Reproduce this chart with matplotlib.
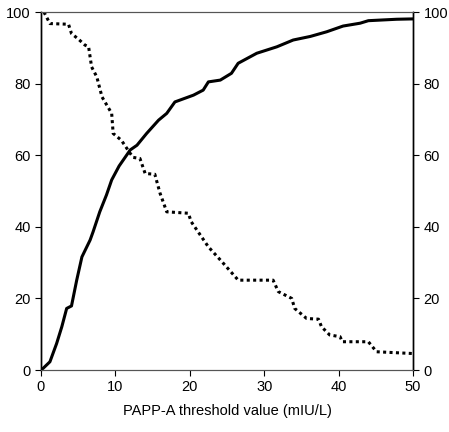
import matplotlib
matplotlib.use("Agg")
import matplotlib.pyplot as plt

plt.rcParams['font.family'] = ['Liberation Sans', 'DejaVu Sans']

# solid curve (rising)
x_solid = [0, 0.3, 1.2, 2.1, 2.8, 3.45, 4.1, 4.8, 5.5, 6.6, 7.0, 7.9, 8.8, 9.5, 10.5,
           12.0, 12.9, 14.2, 15.8, 16.9, 18.0, 20.5, 21.8, 22.5, 24.1, 25.6, 26.5,
           29.0, 31.7, 33.9, 36.2, 38.4, 40.6, 42.9, 44.0, 47.8, 50]
y_solid = [0, 0.5, 2.3, 7.4, 12.1, 17.2, 17.9, 25.1, 31.6, 36.3, 38.6, 44.2, 48.9, 53.1, 57.0,
           61.5, 62.8, 66.1, 69.8, 71.7, 74.9, 76.8, 78.2, 80.5, 81.0, 82.9, 85.7,
           88.5, 90.3, 92.2, 93.2, 94.5, 96.1, 96.9, 97.6, 98.0, 98.1]

# dotted curve (falling)
x_dot = [0.4, 1.2, 3.7, 4.1, 5.0, 5.9, 6.4, 6.8, 7.5, 8.2, 9.5, 9.7, 10.8, 12.0, 12.4,
         13.3, 14.0, 15.3, 16.0, 16.9, 19.8, 20.2, 22.5, 24.3, 26.3, 26.5, 31.2, 31.9,
         33.7, 34.1, 35.7, 37.3, 37.7, 38.8, 40.2, 40.5, 44.0, 45.1, 50]
y_dot = [100, 96.8, 96.6, 94.0, 92.5, 90.8, 90.3, 84.7, 81.9, 76.3, 71.7, 66.1, 64.2, 60.5, 59.4,
         59.1, 54.9, 54.7, 49.4, 44.2, 43.8, 41.4, 34.4, 30.3, 25.6, 25.1, 25.1, 21.9,
         20.0, 17.2, 14.4, 14.2, 12.1, 9.8, 9.3, 7.9, 7.9, 5.1, 4.6]

fig = plt.figure(figsize=(4.49, 4.32), dpi=100)
ax = fig.add_axes([0.0913, 0.1435, 0.8285, 0.8285])

ax.plot(x_solid, y_solid, color='black', linewidth=2.2)
ax.plot(x_dot, y_dot, color='black', linewidth=2.2, linestyle=(0, (1, 1.1)))

ax.set_xlim(0, 50)
ax.set_ylim(0, 100)
ax.set_xticks([0, 10, 20, 30, 40, 50])
ax.set_yticks([0, 20, 40, 60, 80, 100])
ax.tick_params(direction='out', length=4, labelsize=10.5, width=0.8)
ax.set_xlabel('PAPP-A threshold value (mIU/L)', fontsize=10.5, labelpad=7)

ax2 = ax.twinx()
ax2.set_ylim(0, 100)
ax2.set_yticks([0, 20, 40, 60, 80, 100])
ax2.tick_params(direction='out', length=4, labelsize=10.5, width=0.8)

for a in (ax, ax2):
    a.spines['top'].set_color('#555555')
    a.spines['top'].set_linewidth(0.8)
    a.spines['bottom'].set_color('#555555')
    a.spines['left'].set_linewidth(1.0)
    a.spines['right'].set_linewidth(1.0)

fig.savefig('out.png', dpi=100)
